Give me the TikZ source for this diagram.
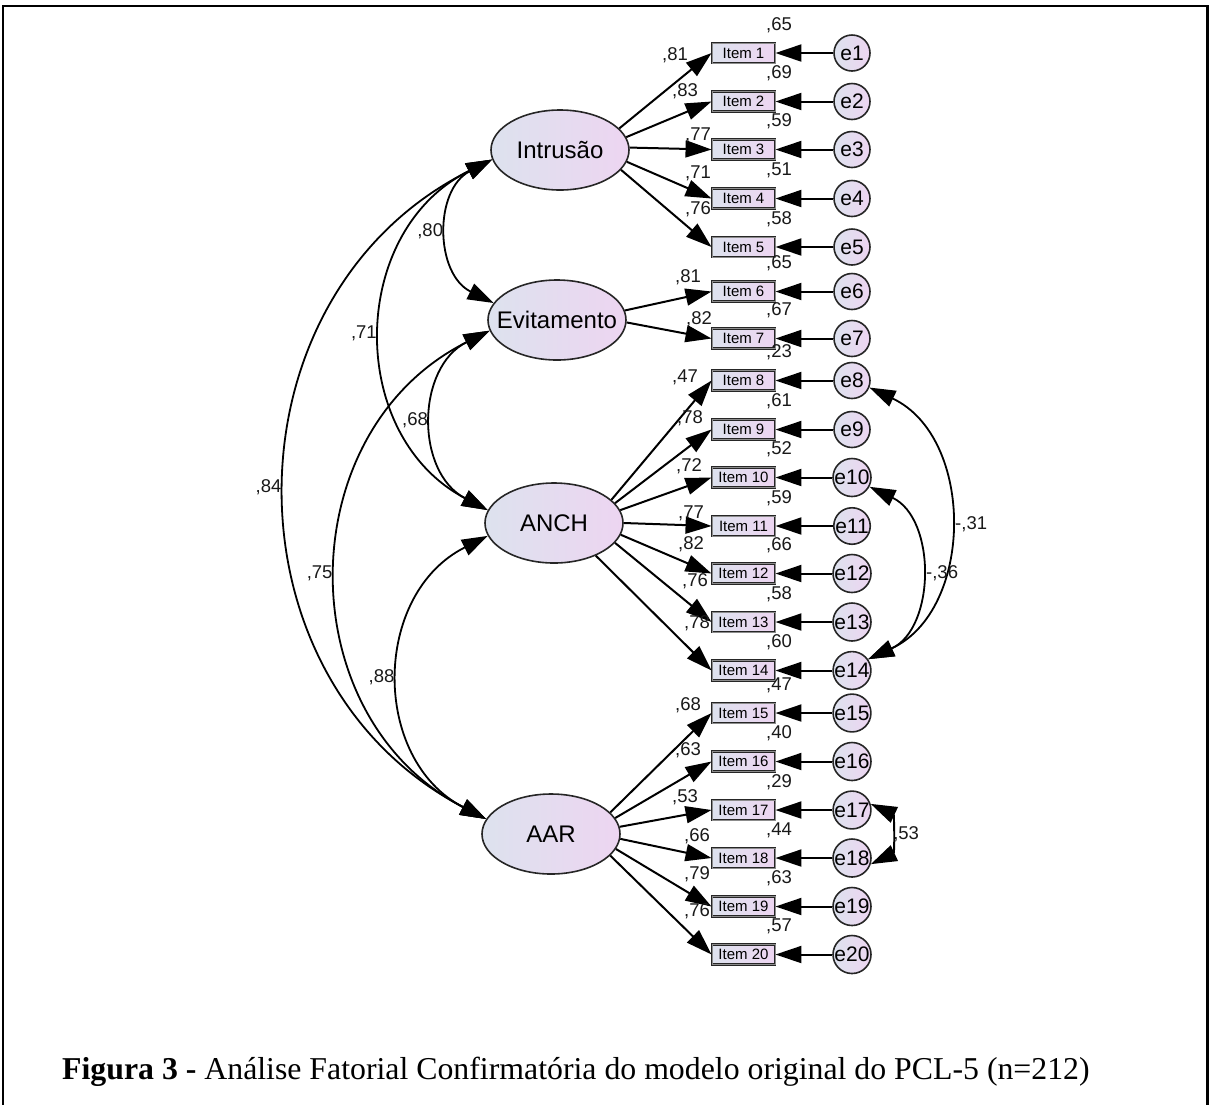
\documentclass[tikz,border=0pt]{standalone}
\usepackage{fontspec}
\setmainfont{Liberation Serif}
\newfontfamily\arialf{Liberation Sans}
\usetikzlibrary{shapes.geometric,arrows.meta}

\definecolor{fillL}{RGB}{221,226,238}
\definecolor{fillR}{RGB}{237,213,241}

\begin{document}
\begin{tikzpicture}[
  x=1pt, y=-1pt,
  >={Triangle[length=26pt, width=17pt]},
  latent/.style={ellipse, draw=black!85, line width=1.6pt, left color=fillL, right color=fillR,
                 minimum width=138pt, minimum height=80pt, inner sep=0pt,
                 font=\arialf\fontsize{24}{28}\selectfont},
  obs/.style={rectangle, draw=black!85, double=black!45, double distance=0.9pt, line width=0.9pt,
              left color=fillL, right color=fillR, minimum width=63pt, minimum height=20pt,
              inner sep=0pt, font=\arialf\fontsize{15}{17}\selectfont},
  err/.style={circle, draw=black!85, line width=1.6pt, left color=fillL, right color=fillR,
              minimum size=36pt, inner sep=0pt, font=\arialf\fontsize{21}{24}\selectfont},
  ld/.style={->, line width=2pt},
  cov/.style={<->, line width=1.8pt, bend right=63, looseness=1.17},
  covr/.style={<->, line width=1.8pt, bend left=65, looseness=1.1},
  coef/.style={font=\arialf\fontsize{18.5}{21}\selectfont, text=black!90, inner sep=2pt},
  caption/.style={font=\fontsize{31.8}{36}\selectfont, inner sep=0pt},
]
\useasboundingbox (0,0) rectangle (1209,1104);
\draw[line width=2.5pt] (3,1110) -- (3,6) -- (1207.5,6) -- (1207.5,1110);

% factors
\node[latent] (intr) at (560,150) {\makebox[0pt]{Intrusão}};
\node[latent] (evit) at (557,320) {\makebox[0pt]{Evitamento}};
\node[latent] (anch) at (554,523) {\makebox[0pt]{ANCH}};
\node[latent] (aar)  at (551,834) {\makebox[0pt]{AAR}};

% items, errors, loadings and R2
\foreach \n/\y/\fac/\ang/\lv/\lx/\ly/\rsq in {
  1/53/intr/20/81/675/55/65,
  2/101.5/intr/11/83/685/91/69,
  3/149.5/intr/2/77/698/135/59,
  4/198.5/intr/-10/71/698/173/51,
  5/247/intr/-18/76/698/209/58,
  6/291.5/evit/8/81/688/277/65,
  7/338.5/evit/-2/82/699/319.5/67,
  8/380.5/anch/22/47/685/377/23,
  9/429.5/anch/18/78/690/418/61,
  10/477.5/anch/11/72/689/466/52,
  11/526/anch/0/77/691/513/59,
  12/573.5/anch/-10/82/691/544/66,
  13/622/anch/-18/76/695/581/58,
  14/670.5/anch/-38/78/697/623/60,
  15/713/aar/20/68/688/705/47,
  16/761.5/aar/14/63/688/750/40,
  17/810/aar/6/53/685/797/29,
  18/858/aar/-4/66/697/836/44,
  19/906.5/aar/-13/79/697/874/63,
  20/954.5/aar/-20/76/697/911/57}{
  \node[obs] (i\n) at (743.5,\y) {Item \n};
  \node[err] (e\n) at (852,\y) {e\n};
  \draw[ld] (e\n) -- (i\n);
  \draw[ld] (\fac.\ang) -- (i\n.west);
  \node[coef] (l\n) at (\lx,\ly) {,\lv};
  \node[coef] (r\n) at (779,\y-28) {,\rsq};
}

% factor covariances
\draw[cov] (intr.188) to node[coef, left=3pt] (c1) {,80} (evit.165);
\draw[cov] (intr.188) to node[coef, left=3pt] (c2) {,71} (anch.169);
\draw[cov] (intr.188) to node[coef, left=3pt] (c3) {,84} (aar.167);
\draw[cov] (evit.189) to node[coef, left=3pt] (c4) {,68} (anch.169);
\draw[cov] (evit.189) to node[coef, left=3pt] (c5) {,75} (aar.167);
\draw[cov] (anch.191) to node[coef, left=3pt] (c6) {,88} (aar.167);

% error covariances
\draw[covr] (e8.-22) to node[coef, right=4pt] (c7) {-,31} (e14.35);
\draw[covr] (e10.-28) to node[coef, right=4pt] (c8) {-,36} (e14.35);
\draw[covr] (e17.18) to node[coef, right=2pt] (c9) {,53} (e18.-18);

\node[caption, anchor=base west] (cap) at (62,1079)
  {\textbf{Figura 3 -} Análise Fatorial Confirmatória do modelo original do PCL-5 (n=212)};
\end{tikzpicture}
\end{document}
